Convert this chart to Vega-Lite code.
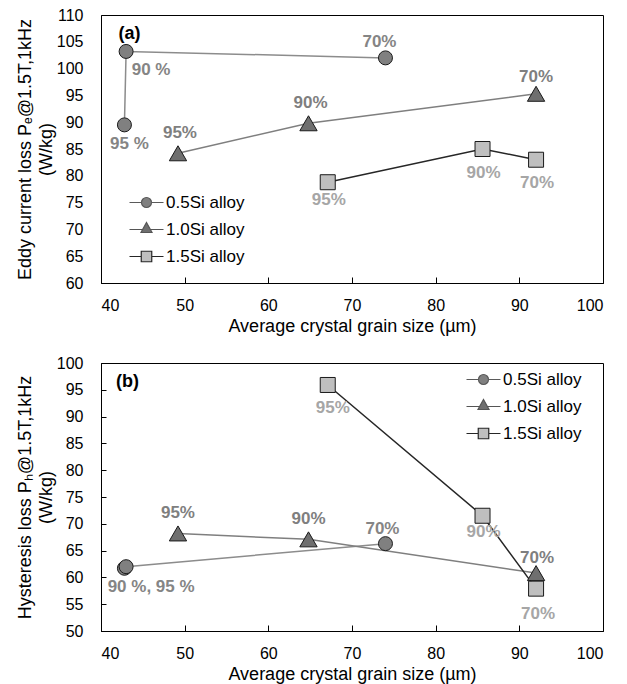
{
  "$schema": "https://vega.github.io/schema/vega-lite/v6.json",
  "padding": {"left": 15, "top": 6, "right": 5, "bottom": 0},
  "spacing": 18,
  "datasets": {
    "pts": [
      {"panel": "a", "alloy": "0.5Si alloy", "red": 95, "x": 42.8, "y": 89.5, "label": "95 %"},
      {"panel": "a", "alloy": "0.5Si alloy", "red": 90, "x": 43.0, "y": 103.2, "label": "90 %"},
      {"panel": "a", "alloy": "0.5Si alloy", "red": 70, "x": 74.0, "y": 102.0, "label": "70%"},
      {"panel": "a", "alloy": "1.0Si alloy", "red": 95, "x": 49.2, "y": 84.2, "label": "95%"},
      {"panel": "a", "alloy": "1.0Si alloy", "red": 90, "x": 64.8, "y": 89.8, "label": "90%"},
      {"panel": "a", "alloy": "1.0Si alloy", "red": 70, "x": 92.0, "y": 95.3, "label": "70%"},
      {"panel": "a", "alloy": "1.5Si alloy", "red": 95, "x": 67.1, "y": 78.8, "label": "95%"},
      {"panel": "a", "alloy": "1.5Si alloy", "red": 90, "x": 85.6, "y": 85.0, "label": "90%"},
      {"panel": "a", "alloy": "1.5Si alloy", "red": 70, "x": 92.0, "y": 83.0, "label": "70%"},
      {"panel": "b", "alloy": "0.5Si alloy", "red": 95, "x": 42.8, "y": 61.7, "label": ""},
      {"panel": "b", "alloy": "0.5Si alloy", "red": 90, "x": 43.0, "y": 62.0, "label": "90 %, 95 %"},
      {"panel": "b", "alloy": "0.5Si alloy", "red": 70, "x": 74.0, "y": 66.3, "label": "70%"},
      {"panel": "b", "alloy": "1.0Si alloy", "red": 95, "x": 49.2, "y": 68.2, "label": "95%"},
      {"panel": "b", "alloy": "1.0Si alloy", "red": 90, "x": 64.8, "y": 67.1, "label": "90%"},
      {"panel": "b", "alloy": "1.0Si alloy", "red": 70, "x": 92.0, "y": 60.8, "label": "70%"},
      {"panel": "b", "alloy": "1.5Si alloy", "red": 95, "x": 67.1, "y": 95.9, "label": "95%"},
      {"panel": "b", "alloy": "1.5Si alloy", "red": 90, "x": 85.6, "y": 71.5, "label": "90%"},
      {"panel": "b", "alloy": "1.5Si alloy", "red": 70, "x": 92.0, "y": 57.9, "label": "70%"}
    ],
    "tags": [
      {"panel": "a", "tag": "(a)", "x": 42.1, "y": 106.4},
      {"panel": "b", "tag": "(b)", "x": 41.8, "y": 96.4}
    ]
  },
  "vconcat": [
    {
      "width": 502,
      "height": 268,
      "data": {"name": "pts"},
      "transform": [{"filter": "datum.panel === 'a'"}],
      "encoding": {
        "x": {"field": "x", "type": "quantitative", "scale": {"domain": [40, 100], "nice": false, "zero": false},
          "axis": {"values": [40, 50, 60, 70, 80, 90, 100], "tickSize": -6, "labelPadding": 20, "titlePadding": 4, "title": "Average crystal grain size (µm)"}},
        "y": {"field": "y", "type": "quantitative", "scale": {"domain": [60, 110], "nice": false, "zero": false},
          "axis": {"values": [60, 65, 70, 75, 80, 85, 90, 95, 100, 105, 110], "ticks": false, "labelPadding": 18, "titlePadding": 1, "titleLineHeight": 21, "title": ["Eddy current loss Pₑ@1.5T,1kHz", "(W/kg)"]}}
      },
      "layer": [
        {"mark": {"type": "line", "strokeWidth": 1.5},
          "encoding": {"detail": {"field": "alloy"},
            "stroke": {"condition": [{"test": "datum.alloy === '1.5Si alloy'", "value": "#262626"}, {"test": "datum.alloy === '1.0Si alloy'", "value": "#7f7f7f"}], "value": "#8c8c8c"}}},
        {"mark": {"type": "point", "opacity": 0, "filled": true, "strokeWidth": 1.2},
          "encoding": {
            "shape": {"field": "alloy", "type": "nominal", "scale": {"domain": ["0.5Si alloy", "1.0Si alloy", "1.5Si alloy"], "range": ["M-3.4,0H-1M1,0H3.4M1,0A1,1,0,1,1,-1,0A1,1,0,1,1,1,0Z", "M-3.4,0H-0.75M0.75,0H3.4M0,-1.4L1.1,0.6L-1.1,0.6Z", "M-3.4,0H-1.05M1.05,0H3.4M-1.05,-1.05H1.05V1.05H-1.05Z"]},
              "legend": {"orient": "none", "legendX": 37, "legendY": 179, "title": null, "labelFont": "Liberation Sans", "labelFontSize": 17, "labelColor": "#000", "symbolSize": 100, "symbolStrokeWidth": 1.2, "symbolOpacity": 1, "labelOffset": 11, "rowPadding": 9, "padding": 0}},
            "fill": {"field": "alloy", "type": "nominal", "scale": {"domain": ["0.5Si alloy", "1.0Si alloy", "1.5Si alloy"], "range": ["#808080", "#6f6f6f", "#bfbfbf"]},
              "legend": {"orient": "none", "legendX": 37, "legendY": 179, "title": null, "labelFont": "Liberation Sans", "labelFontSize": 17, "labelColor": "#000", "symbolSize": 100, "symbolStrokeWidth": 1.2, "symbolOpacity": 1, "labelOffset": 11, "rowPadding": 9, "padding": 0}},
            "stroke": {"field": "alloy", "type": "nominal", "scale": {"domain": ["0.5Si alloy", "1.0Si alloy", "1.5Si alloy"], "range": ["#5a5a5a", "#555555", "#262626"]},
              "legend": {"orient": "none", "legendX": 37, "legendY": 179, "title": null, "labelFont": "Liberation Sans", "labelFontSize": 17, "labelColor": "#000", "symbolSize": 100, "symbolStrokeWidth": 1.2, "symbolOpacity": 1, "labelOffset": 11, "rowPadding": 9, "padding": 0}}
          }},
        {"transform": [{"filter": "datum.alloy === '0.5Si alloy'"}],
          "mark": {"type": "point", "shape": "circle", "size": 196, "filled": true, "opacity": 1, "fill": "#808080", "stroke": "#1a1a1a", "strokeWidth": 1}},
        {"transform": [{"filter": "datum.alloy === '1.0Si alloy'"}],
          "mark": {"type": "point", "shape": "triangle-up", "size": 300, "filled": true, "opacity": 1, "fill": "#6f6f6f", "stroke": "#1a1a1a", "strokeWidth": 1}},
        {"transform": [{"filter": "datum.alloy === '1.5Si alloy'"}],
          "mark": {"type": "point", "shape": "square", "size": 225, "filled": true, "opacity": 1, "fill": "#bfbfbf", "stroke": "#1a1a1a", "strokeWidth": 1}},
        {"transform": [{"filter": "datum.alloy === '0.5Si alloy' && datum.red === 90"}],
          "mark": {"type": "text", "dx": 25, "dy": 19, "fontWeight": "bold", "fontSize": 17, "font": "Liberation Sans", "fill": "#858585"},
          "encoding": {"text": {"field": "label"}}},
        {"transform": [{"filter": "datum.alloy === '0.5Si alloy' && datum.red === 95"}],
          "mark": {"type": "text", "dx": 5, "dy": 19, "fontWeight": "bold", "fontSize": 17, "font": "Liberation Sans", "fill": "#858585"},
          "encoding": {"text": {"field": "label"}}},
        {"transform": [{"filter": "datum.alloy === '0.5Si alloy' && datum.red === 70"}],
          "mark": {"type": "text", "dx": -6, "dy": -16, "fontWeight": "bold", "fontSize": 17, "font": "Liberation Sans", "fill": "#858585"},
          "encoding": {"text": {"field": "label"}}},
        {"transform": [{"filter": "datum.alloy === '1.0Si alloy' && datum.red !== 70"}],
          "mark": {"type": "text", "dx": 2, "dy": -20, "fontWeight": "bold", "fontSize": 17, "font": "Liberation Sans", "fill": "#7f7f7f"},
          "encoding": {"text": {"field": "label"}}},
        {"transform": [{"filter": "datum.alloy === '1.0Si alloy' && datum.red === 70"}],
          "mark": {"type": "text", "dx": 0, "dy": -17, "fontWeight": "bold", "fontSize": 17, "font": "Liberation Sans", "fill": "#7f7f7f"},
          "encoding": {"text": {"field": "label"}}},
        {"transform": [{"filter": "datum.alloy === '1.5Si alloy' && datum.red === 95"}],
          "mark": {"type": "text", "dx": 1, "dy": 18, "fontWeight": "bold", "fontSize": 17, "font": "Liberation Sans", "fill": "#a6a6a6"},
          "encoding": {"text": {"field": "label"}}},
        {"transform": [{"filter": "datum.alloy === '1.5Si alloy' && datum.red !== 95"}],
          "mark": {"type": "text", "dx": 1, "dy": 23.5, "fontWeight": "bold", "fontSize": 17, "font": "Liberation Sans", "fill": "#a6a6a6"},
          "encoding": {"text": {"field": "label"}}},
        {"data": {"name": "tags"},
          "transform": [{"filter": "datum.panel === 'a'"}],
          "mark": {"type": "text", "align": "left", "fontWeight": "bold", "fontSize": 18, "font": "Liberation Sans", "fill": "#000"},
          "encoding": {"text": {"field": "tag"}}}
      ]
    },
    {
      "width": 502,
      "height": 268,
      "data": {"name": "pts"},
      "transform": [{"filter": "datum.panel === 'b'"}],
      "encoding": {
        "x": {"field": "x", "type": "quantitative", "scale": {"domain": [40, 100], "nice": false, "zero": false},
          "axis": {"values": [40, 50, 60, 70, 80, 90, 100], "tickSize": -6, "labelPadding": 20, "titlePadding": 4, "title": "Average crystal grain size (µm)"}},
        "y": {"field": "y", "type": "quantitative", "scale": {"domain": [50, 100], "nice": false, "zero": false},
          "axis": {"values": [50, 55, 60, 65, 70, 75, 80, 85, 90, 95, 100], "ticks": true, "tickSize": -5, "labelPadding": 23, "titlePadding": 1, "titleLineHeight": 21, "title": ["Hysteresis loss Pₕ@1.5T,1kHz", "(W/kg)"]}}
      },
      "layer": [
        {"mark": {"type": "line", "strokeWidth": 1.5},
          "encoding": {"detail": {"field": "alloy"},
            "stroke": {"condition": [{"test": "datum.alloy === '1.5Si alloy'", "value": "#262626"}, {"test": "datum.alloy === '1.0Si alloy'", "value": "#7f7f7f"}], "value": "#8c8c8c"}}},
        {"mark": {"type": "point", "opacity": 0, "filled": true, "strokeWidth": 1.2},
          "encoding": {
            "shape": {"field": "alloy", "type": "nominal", "scale": {"domain": ["0.5Si alloy", "1.0Si alloy", "1.5Si alloy"], "range": ["M-3.4,0H-1M1,0H3.4M1,0A1,1,0,1,1,-1,0A1,1,0,1,1,1,0Z", "M-3.4,0H-0.75M0.75,0H3.4M0,-1.4L1.1,0.6L-1.1,0.6Z", "M-3.4,0H-1.05M1.05,0H3.4M-1.05,-1.05H1.05V1.05H-1.05Z"]},
              "legend": {"orient": "none", "legendX": 374, "legendY": 8, "title": null, "labelFont": "Liberation Sans", "labelFontSize": 17, "labelColor": "#000", "symbolSize": 100, "symbolStrokeWidth": 1.2, "symbolOpacity": 1, "labelOffset": 11, "rowPadding": 9, "padding": 0}},
            "fill": {"field": "alloy", "type": "nominal", "scale": {"domain": ["0.5Si alloy", "1.0Si alloy", "1.5Si alloy"], "range": ["#808080", "#6f6f6f", "#bfbfbf"]},
              "legend": {"orient": "none", "legendX": 374, "legendY": 8, "title": null, "labelFont": "Liberation Sans", "labelFontSize": 17, "labelColor": "#000", "symbolSize": 100, "symbolStrokeWidth": 1.2, "symbolOpacity": 1, "labelOffset": 11, "rowPadding": 9, "padding": 0}},
            "stroke": {"field": "alloy", "type": "nominal", "scale": {"domain": ["0.5Si alloy", "1.0Si alloy", "1.5Si alloy"], "range": ["#5a5a5a", "#555555", "#262626"]},
              "legend": {"orient": "none", "legendX": 374, "legendY": 8, "title": null, "labelFont": "Liberation Sans", "labelFontSize": 17, "labelColor": "#000", "symbolSize": 100, "symbolStrokeWidth": 1.2, "symbolOpacity": 1, "labelOffset": 11, "rowPadding": 9, "padding": 0}}
          }},
        {"transform": [{"filter": "datum.alloy === '0.5Si alloy'"}],
          "mark": {"type": "point", "shape": "circle", "size": 196, "filled": true, "opacity": 1, "fill": "#808080", "stroke": "#1a1a1a", "strokeWidth": 1}},
        {"transform": [{"filter": "datum.alloy === '1.0Si alloy'"}],
          "mark": {"type": "point", "shape": "triangle-up", "size": 300, "filled": true, "opacity": 1, "fill": "#6f6f6f", "stroke": "#1a1a1a", "strokeWidth": 1}},
        {"transform": [{"filter": "datum.alloy === '1.5Si alloy'"}],
          "mark": {"type": "point", "shape": "square", "size": 225, "filled": true, "opacity": 1, "fill": "#bfbfbf", "stroke": "#1a1a1a", "strokeWidth": 1}},
        {"transform": [{"filter": "datum.alloy === '0.5Si alloy' && datum.red === 90"}],
          "mark": {"type": "text", "dx": 25, "dy": 20, "fontWeight": "bold", "fontSize": 17, "font": "Liberation Sans", "fill": "#858585"},
          "encoding": {"text": {"field": "label"}}},
        {"transform": [{"filter": "datum.alloy === '0.5Si alloy' && datum.red === 70"}],
          "mark": {"type": "text", "dx": -3, "dy": -15, "fontWeight": "bold", "fontSize": 17, "font": "Liberation Sans", "fill": "#858585"},
          "encoding": {"text": {"field": "label"}}},
        {"transform": [{"filter": "datum.alloy === '1.0Si alloy' && datum.red !== 70"}],
          "mark": {"type": "text", "dx": 0, "dy": -20, "fontWeight": "bold", "fontSize": 17, "font": "Liberation Sans", "fill": "#7f7f7f"},
          "encoding": {"text": {"field": "label"}}},
        {"transform": [{"filter": "datum.alloy === '1.0Si alloy' && datum.red === 70"}],
          "mark": {"type": "text", "dx": 1, "dy": -15, "fontWeight": "bold", "fontSize": 17, "font": "Liberation Sans", "fill": "#7f7f7f"},
          "encoding": {"text": {"field": "label"}}},
        {"transform": [{"filter": "datum.alloy === '1.5Si alloy' && datum.red === 95"}],
          "mark": {"type": "text", "dx": 5, "dy": 23, "fontWeight": "bold", "fontSize": 17, "font": "Liberation Sans", "fill": "#a6a6a6"},
          "encoding": {"text": {"field": "label"}}},
        {"transform": [{"filter": "datum.alloy === '1.5Si alloy' && datum.red === 90"}],
          "mark": {"type": "text", "dx": 1, "dy": 16, "fontWeight": "bold", "fontSize": 17, "font": "Liberation Sans", "fill": "#a6a6a6"},
          "encoding": {"text": {"field": "label"}}},
        {"transform": [{"filter": "datum.alloy === '1.5Si alloy' && datum.red === 70"}],
          "mark": {"type": "text", "dx": 2, "dy": 25, "fontWeight": "bold", "fontSize": 17, "font": "Liberation Sans", "fill": "#a6a6a6"},
          "encoding": {"text": {"field": "label"}}},
        {"data": {"name": "tags"},
          "transform": [{"filter": "datum.panel === 'b'"}],
          "mark": {"type": "text", "align": "left", "fontWeight": "bold", "fontSize": 18, "font": "Liberation Sans", "fill": "#000"},
          "encoding": {"text": {"field": "tag"}}}
      ]
    }
  ],
  "resolve": {"scale": {"shape": "independent", "fill": "independent", "stroke": "independent"}, "legend": {"shape": "independent", "fill": "independent", "stroke": "independent"}},
  "config": {
    "font": "Liberation Sans",
    "view": {"stroke": "#000", "strokeWidth": 1},
    "axis": {"labelFont": "Liberation Sans", "labelFontSize": 16, "labelColor": "#000", "titleFont": "Liberation Sans", "titleFontSize": 18, "titleFontWeight": "normal", "titleColor": "#000", "domainColor": "#000", "tickColor": "#000", "grid": false}
  }
}
